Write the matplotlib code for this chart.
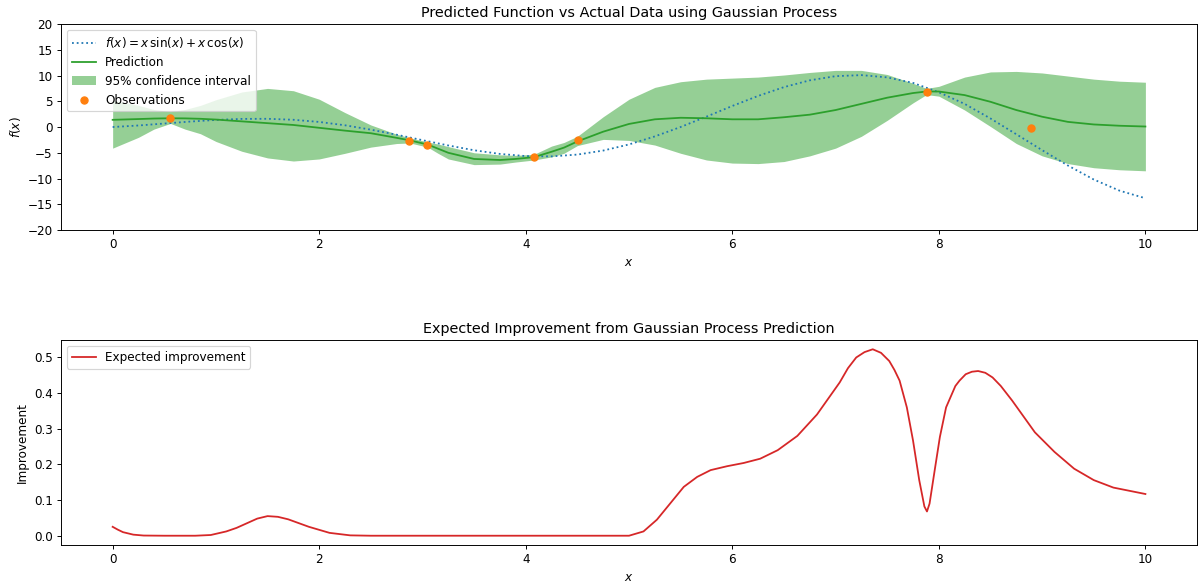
from matplotlib import pyplot as plt

# True function f(x) = x sin(x) + x cos(x)
x_true = [0, 0.25, 0.5, 0.75, 1.0, 1.25, 1.5, 1.75, 2.0, 2.25, 2.5, 2.75, 3.0, 3.25,
          3.5, 3.75, 4.0, 4.25, 4.5, 4.75, 5.0, 5.25, 5.5, 5.75, 6.0, 6.25, 6.5, 6.75,
          7.0, 7.25, 7.5, 7.75, 8.0, 8.25, 8.5, 8.75, 9.0, 9.25, 9.5, 9.75, 10.0]
y_true = [0.0, 0.30, 0.68, 1.06, 1.38, 1.58, 1.60, 1.41, 0.99, 0.34, -0.51, -1.49, -2.55,
          -3.58, -4.51, -5.22, -5.64, -5.70, -5.35, -4.57, -3.38, -1.82, 0.01, 2.02, 4.09,
          6.04, 7.75, 9.07, 9.88, 10.08, 9.64, 8.57, 6.75, 4.49, 1.66, -1.40, -4.49, -7.48,
          -10.19, -12.36, -13.83]

# GP prediction and 95% band
x_pred = [0, 0.25, 0.4, 0.56, 0.7, 0.85, 1.0, 1.25, 1.5, 1.75, 2.0, 2.25, 2.5, 2.75,
          2.88, 3.05, 3.15, 3.25, 3.5, 3.75, 3.9, 4.08, 4.25, 4.37, 4.5, 4.75, 5.0, 5.25,
          5.5, 5.75, 6.0, 6.25, 6.5, 6.75, 7.0, 7.25, 7.5, 7.75, 7.88, 8.0, 8.25, 8.5,
          8.75, 9.0, 9.25, 9.5, 9.75, 10.0]
y_mean = [1.4, 1.55, 1.65, 1.7, 1.68, 1.6, 1.45, 1.1, 0.75, 0.4, -0.15, -0.7, -1.2, -2.1,
          -2.6, -3.4, -4.2, -5.0, -6.2, -6.4, -6.2, -5.85, -4.8, -4.0, -2.8, -0.9, 0.6, 1.5,
          1.8, 1.7, 1.5, 1.5, 1.9, 2.4, 3.3, 4.5, 5.7, 6.6, 6.9, 6.9, 6.2, 4.9,
          3.3, 2.0, 1.0, 0.5, 0.25, 0.1]
y_upper = [5.2, 4.2, 3.4, 3.0, 3.4, 4.2, 5.3, 6.8, 7.5, 7.05, 5.4, 2.8, 0.4, -1.4,
           -2.1, -2.9, -3.3, -3.8, -5.0, -5.4, -5.5, -5.3, -3.7, -3.0, -1.8, 2.0, 5.4, 7.7,
           8.8, 9.3, 9.5, 9.7, 10.1, 10.6, 11.0, 11.0, 10.2, 8.5, 7.5, 7.9, 9.7, 10.7,
           10.8, 10.5, 9.9, 9.3, 8.9, 8.7]
y_lower = [-4.1, -2.0, -0.4, 0.7, -0.4, -1.3, -2.8, -4.7, -6.0, -6.6, -6.2, -5.1, -3.9, -3.2,
           -3.1, -3.9, -5.1, -6.2, -7.3, -7.2, -6.8, -6.4, -5.8, -5.1, -3.6, -2.4, -2.6, -3.5,
           -5.1, -6.4, -7.0, -7.1, -6.7, -5.6, -4.1, -1.8, 1.3, 4.7, 6.3, 6.0, 3.3, 0.1,
           -3.2, -5.6, -7.1, -7.9, -8.3, -8.5]

# Noisy observations
x_obs = [0.56, 2.87, 3.04, 4.08, 4.51, 7.89, 8.89]
y_obs = [1.7, -2.65, -3.5, -5.83, -2.5, 6.9, -0.1]

# Expected improvement
x_ei = [0, 0.05, 0.1, 0.2, 0.3, 0.5, 0.8, 0.95, 1.1, 1.2, 1.3, 1.4, 1.5, 1.6, 1.7, 1.9,
        2.1, 2.3, 2.5, 5.0, 5.14, 5.27, 5.40, 5.53, 5.66, 5.79, 5.95, 6.11, 6.27, 6.44,
        6.63, 6.82, 7.04, 7.12, 7.20, 7.28, 7.36, 7.44, 7.52, 7.57, 7.62, 7.69, 7.75,
        7.81, 7.86, 7.885, 7.91, 7.96, 8.01, 8.07, 8.16, 8.20, 8.26, 8.32, 8.38, 8.45,
        8.52, 8.60, 8.71, 8.93, 9.12, 9.31, 9.50, 9.69, 10.0]
y_ei = [0.025, 0.017, 0.01, 0.003, 0.0005, 0, 0, 0.002, 0.012, 0.022, 0.035, 0.048, 0.055,
        0.053, 0.046, 0.025, 0.008, 0.001, 0, 0, 0.012, 0.045, 0.091, 0.137, 0.165, 0.184,
        0.195, 0.204, 0.216, 0.24, 0.28, 0.34, 0.43, 0.47, 0.50, 0.515, 0.523, 0.513, 0.49,
        0.465, 0.435, 0.36, 0.267, 0.156, 0.082, 0.068, 0.09, 0.184, 0.277, 0.36, 0.42,
        0.435, 0.453, 0.46, 0.462, 0.457, 0.444, 0.42, 0.379, 0.29, 0.235, 0.188, 0.156,
        0.135, 0.117]

dpi = 86
fig = plt.figure(figsize=(1201 / dpi, 585 / dpi), dpi=dpi)
ax1 = fig.add_axes([0.0508, 0.6068, 0.9459, 0.3521])
ax2 = fig.add_axes([0.0508, 0.0684, 0.9459, 0.3504])

ax1.plot(x_true, y_true, ':', color="tab:blue", label=r"$f(x) = x\,\sin(x) + x\,\cos(x)$")
ax1.plot(x_pred, y_mean, "-", color="tab:green", label="Prediction")
ax1.fill_between(x_pred, y_lower, y_upper, color="tab:green", alpha=0.5, linewidth=0,
                 label="95% confidence interval")
ax1.plot(x_obs, y_obs, "o", color="tab:orange", label="Observations")
ax1.set_ylim(-20, 20)
ax1.set_xlim(-0.5, 10.5)
ax1.set_xlabel("$x$")
ax1.set_ylabel("$f(x)$")
ax1.set_title("Predicted Function vs Actual Data using Gaussian Process")
ax1.legend(loc="upper left")

ax2.plot(x_ei, y_ei, "-", color="tab:red", label="Expected improvement")
ax2.set_xlim(-0.5, 10.5)
ax2.set_ylim(-0.026, 0.549)
ax2.set_xlabel("$x$")
ax2.set_ylabel("Improvement")
ax2.set_title("Expected Improvement from Gaussian Process Prediction")
ax2.legend(loc="upper left")

fig.savefig("out.png", dpi=dpi)
